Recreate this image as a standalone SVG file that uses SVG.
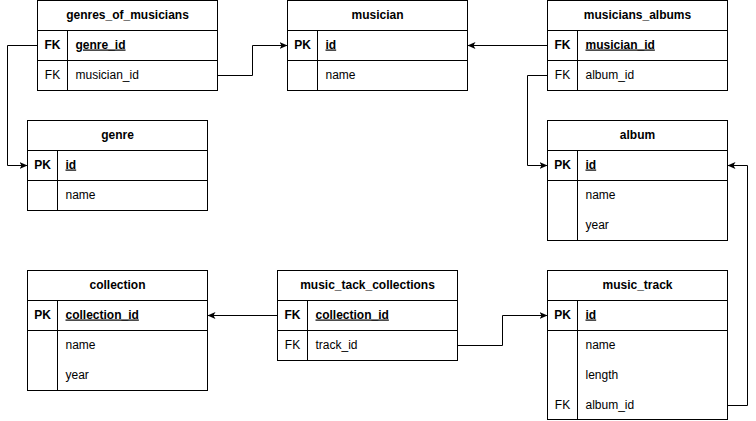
<svg xmlns="http://www.w3.org/2000/svg" width="756" height="421" viewBox="0 0 756 421">
<style>
.box{fill:#fff;stroke:#000;stroke-width:1}
.ln{stroke:#000;stroke-width:1;fill:none}
.t{font-family:"Liberation Sans",Arial,Helvetica,sans-serif;font-size:12px;fill:#000}
.h{font-weight:bold;text-anchor:middle}
.kb{font-weight:bold;text-anchor:middle}
.kn{text-anchor:middle}
.u{font-weight:bold;text-decoration:underline}
.c{stroke:#000;stroke-width:1;fill:none}
</style>
<defs>
<marker id="arr" markerWidth="10" markerHeight="10" refX="8" refY="3.5" orient="auto" markerUnits="userSpaceOnUse">
<path d="M0,0 L8,3.5 L0,7 L2,3.5 z" fill="#000"/>
</marker>
</defs>
<rect width="756" height="421" fill="#fff"/>

<g id="genres_of_musicians">
<rect class="box" x="37.5" y="0.5" width="180" height="90"/>
<path class="ln" d="M37.5 30.5H217.5M37.5 60.5H217.5M67.5 30.5V90.5"/>
<text class="t h" x="127.5" y="18.5">genres_of_musicians</text>
<text class="t kb" x="52.5" y="48.5">FK</text>
<text class="t u" x="75.5" y="48.5">genre_id</text>
<text class="t kn" x="52.5" y="78.5">FK</text>
<text class="t" x="75.5" y="78.5">musician_id</text>
</g>

<g id="musician">
<rect class="box" x="287.5" y="0.5" width="180" height="90"/>
<path class="ln" d="M287.5 30.5H467.5M287.5 60.5H467.5M317.5 30.5V90.5"/>
<text class="t h" x="377.5" y="18.5">musician</text>
<text class="t kb" x="302.5" y="48.5">PK</text>
<text class="t u" x="325.5" y="48.5">id</text>
<text class="t" x="325.5" y="78.5">name</text>
</g>

<g id="musicians_albums">
<rect class="box" x="547.5" y="0.5" width="180" height="90"/>
<path class="ln" d="M547.5 30.5H727.5M547.5 60.5H727.5M577.5 30.5V90.5"/>
<text class="t h" x="637.5" y="18.5">musicians_albums</text>
<text class="t kb" x="562.5" y="48.5">FK</text>
<text class="t u" x="585.5" y="48.5">musician_id</text>
<text class="t kn" x="562.5" y="78.5">FK</text>
<text class="t" x="585.5" y="78.5">album_id</text>
</g>

<g id="genre">
<rect class="box" x="27.5" y="120.5" width="180" height="90"/>
<path class="ln" d="M27.5 150.5H207.5M27.5 180.5H207.5M57.5 150.5V210.5"/>
<text class="t h" x="117.5" y="138.5">genre</text>
<text class="t kb" x="42.5" y="168.5">PK</text>
<text class="t u" x="65.5" y="168.5">id</text>
<text class="t" x="65.5" y="198.5">name</text>
</g>

<g id="album">
<rect class="box" x="547.5" y="120.5" width="180" height="120"/>
<path class="ln" d="M547.5 150.5H727.5M547.5 180.5H727.5M577.5 150.5V240.5"/>
<text class="t h" x="637.5" y="138.5">album</text>
<text class="t kb" x="562.5" y="168.5">PK</text>
<text class="t u" x="585.5" y="168.5">id</text>
<text class="t" x="585.5" y="198.5">name</text>
<text class="t" x="585.5" y="228.5">year</text>
</g>

<g id="collection">
<rect class="box" x="27.5" y="270.5" width="180" height="120"/>
<path class="ln" d="M27.5 300.5H207.5M27.5 330.5H207.5M57.5 300.5V390.5"/>
<text class="t h" x="117.5" y="288.5">collection</text>
<text class="t kb" x="42.5" y="318.5">PK</text>
<text class="t u" x="65.5" y="318.5">collection_id</text>
<text class="t" x="65.5" y="348.5">name</text>
<text class="t" x="65.5" y="378.5">year</text>
</g>

<g id="music_tack_collections">
<rect class="box" x="277.5" y="270.5" width="180" height="90"/>
<path class="ln" d="M277.5 300.5H457.5M277.5 330.5H457.5M307.5 300.5V360.5"/>
<text class="t h" x="367.5" y="288.5">music_tack_collections</text>
<text class="t kb" x="292.5" y="318.5">FK</text>
<text class="t u" x="315.5" y="318.5">collection_id</text>
<text class="t kn" x="292.5" y="348.5">FK</text>
<text class="t" x="315.5" y="348.5">track_id</text>
</g>

<g id="music_track">
<rect class="box" x="547.5" y="270.5" width="180" height="149"/>
<path class="ln" d="M547.5 300.5H727.5M547.5 330.5H727.5M577.5 300.5V419.5"/>
<text class="t h" x="637.5" y="288.5">music_track</text>
<text class="t kb" x="562.5" y="318.5">PK</text>
<text class="t u" x="585.5" y="318.5">id</text>
<text class="t" x="585.5" y="348.5">name</text>
<text class="t" x="585.5" y="378.5">length</text>
<text class="t kn" x="562.5" y="408.5">FK</text>
<text class="t" x="585.5" y="408.5">album_id</text>
</g>

<g id="connectors">
<path class="c" marker-end="url(#arr)" d="M37.5 45.5H7.5V165.5H27.5"/>
<path class="c" marker-end="url(#arr)" d="M217.5 75.5H252.5V45.5H287.5"/>
<path class="c" marker-end="url(#arr)" d="M547.5 45.5H467.5"/>
<path class="c" marker-end="url(#arr)" d="M547.5 75.5H527.5V165.5H547.5"/>
<path class="c" marker-end="url(#arr)" d="M277.5 315.5H207.5"/>
<path class="c" marker-end="url(#arr)" d="M457.5 345.5H502.5V315.5H547.5"/>
<path class="c" marker-end="url(#arr)" d="M727.5 405.5H747.5V165.5H727.5"/>
</g>
</svg>
